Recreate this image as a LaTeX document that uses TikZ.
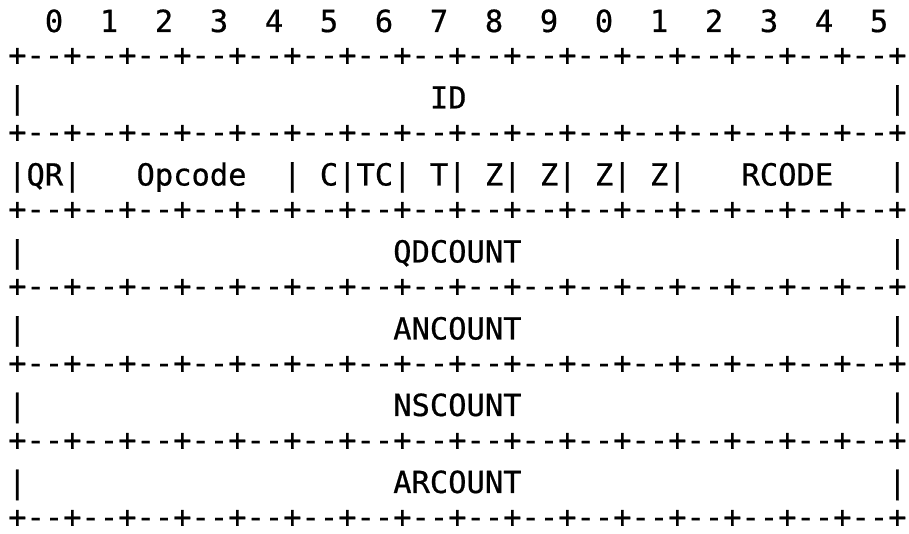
\documentclass[tikz,border=0pt]{standalone}
\usepackage{fontspec}
\setmonofont[FakeBold=0.6]{DejaVu Sans Mono}
\newcommand\gap[1]{\hspace*{#1\fontcharwd\font`0}}
\newcommand\bitrow{\foreach \b in {0,...,9,0,1,2,3,4,5}{\gap{2}\b}}
\newcommand\borderrow{+\foreach \k in {1,...,16}{--+}}
\tikzset{
    ascii/.style={anchor=base west, inner sep=0pt, text=black, font=\ttfamily\fontsize{8.66pt}{10pt}\selectfont},
}

\begin{document}
\begin{tikzpicture}[x=0.01cm, y=-0.01cm]
        \useasboundingbox (0,0) rectangle (909,534);

        % Bit numbers
        \node (bits) [ascii] at (7.5,32) {\bitrow};

        % Header rows
        \node (sep0) [ascii] at (7.5,65.5) {\borderrow};
        \node (id) [ascii] at (7.5,108.5) {|\gap{22}ID\gap{23}|};
        \node (sep1) [ascii] at (7.5,142.5) {\borderrow};
        \node (flags) [ascii] at (7.5,185.5) {|QR|\gap{3}Opcode\gap{2}|\gap{1}C|TC|\gap{1}T|\gap{1}Z|\gap{1}Z|\gap{1}Z|\gap{1}Z|\gap{3}RCODE\gap{3}|};
        \node (sep2) [ascii] at (7.5,219.5) {\borderrow};
        \node (qdcount) [ascii] at (7.5,262.5) {|\gap{20}QDCOUNT\gap{20}|};
        \node (sep3) [ascii] at (7.5,296.5) {\borderrow};
        \node (ancount) [ascii] at (7.5,339.5) {|\gap{20}ANCOUNT\gap{20}|};
        \node (sep4) [ascii] at (7.5,373.5) {\borderrow};
        \node (nscount) [ascii] at (7.5,416) {|\gap{20}NSCOUNT\gap{20}|};
        \node (sep5) [ascii] at (7.5,450.5) {\borderrow};
        \node (arcount) [ascii] at (7.5,493) {|\gap{20}ARCOUNT\gap{20}|};
        \node (sep6) [ascii] at (7.5,527.5) {\borderrow};

\end{tikzpicture}
\end{document}
